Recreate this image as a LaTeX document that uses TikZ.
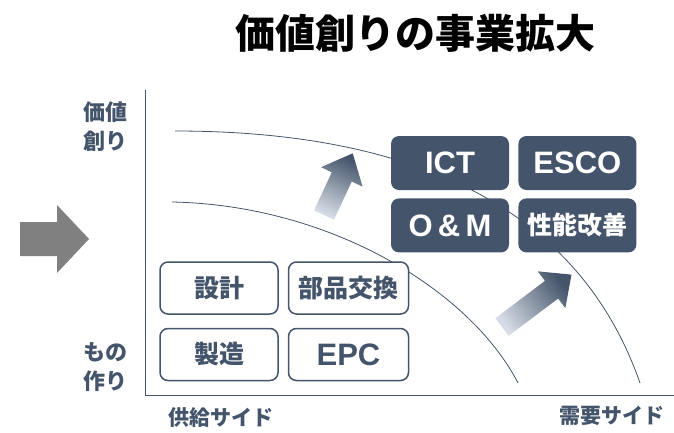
\documentclass[tikz,border=0pt]{standalone}
\usepackage{fontspec}
\setmainfont{Noto Sans CJK JP}
\newfontfamily\jpbold{Noto Sans CJK JP Black}
\newfontfamily\latinbold{Liberation Sans Bold}
\newfontfamily\titlefont{Noto Sans CJK JP Black}
\usetikzlibrary{positioning}

\definecolor{slate}{HTML}{44546A}
\definecolor{paleslate}{HTML}{D6DCE5}
\definecolor{arrowgray}{HTML}{808080}

\tikzset{
  lightbox/.style={draw=slate, line width=1.5pt, rounded corners=8pt, fill=white, text=slate,
    minimum width=118pt, minimum height=52pt, inner sep=0pt, font=\jpbold\fontsize{25}{25}\selectfont},
  darkbox/.style={fill=slate, rounded corners=8pt, text=white,
    minimum width=118pt, minimum height=54pt, inner sep=0pt, font=\jpbold\fontsize{25}{25}\selectfont},
  latintext/.style={font=\latinbold\fontsize{31}{31}\selectfont},
  sidelabel/.style={text=slate, font=\jpbold\fontsize{21}{21}\selectfont},
  levellabel/.style={text=slate, align=right, anchor=east, font=\jpbold\fontsize{22}{29}\selectfont},
  trend/.style={draw=slate, line width=0.8pt},
  growarrow/.style={top color=slate, bottom color=paleslate}
}

\begin{document}
\begin{tikzpicture}[x=1pt, y=-1pt]
\useasboundingbox (0,0) rectangle (674,432);

\node[font=\titlefont\fontsize{40}{40}\selectfont] (title) at (415,33) {価値創りの事業拡大};

% big arrow at the left
\fill[arrowgray] (20,222) -- (57,222) -- (57,205) -- (89,239) -- (57,273) -- (57,256) -- (20,256) -- cycle;

% axes
\coordinate (top) at (145,90);
\coordinate (origin) at (145,395);
\coordinate (right) at (674,395);
\draw[slate, line width=1pt] (top) -- (origin) -- (right);

\node[levellabel] (value) at (131,127) {価値\\創り};
\node[levellabel] (making) at (131,367) {もの\\作り};
\node[sidelabel] (supply) at (221,418) {供給サイド};
\node[sidelabel] (demand) at (612,416) {需要サイド};

% curves
\draw[trend] (175,131) .. controls (460,131) and (590,240) .. (640,383);
\draw[trend] (172,202) .. controls (330,205) and (470,290) .. (518,383);

% arrows
\begin{scope}[shift={(324,215)}, rotate=65]
  \shade[growarrow, shading angle=-25] (0,-11) -- (42,-11) -- (42,-23) -- (68,0) -- (42,23) -- (42,11) -- (0,11) -- cycle;
\end{scope}
\begin{scope}[shift={(502,327)}, rotate=37]
  \shade[growarrow, shading angle=-53] (0,-11) -- (62,-11) -- (62,-23) -- (87,0) -- (62,23) -- (62,11) -- (0,11) -- cycle;
\end{scope}

% making side
\node[lightbox] (design) at (219,288) {設計};
\node[lightbox, minimum width=120pt, right=9pt of design] (parts) {部品交換};
\node[lightbox, below=13pt of design] (maker) {製造};
\node[lightbox, latintext, minimum width=120pt, below=13pt of parts] (epc) {EPC};

% value side
\node[darkbox, latintext] (ict) at (450,163) {ICT};
\node[darkbox, latintext, right=9pt of ict] (esco) {ESCO};
\node[darkbox, latintext, below=8pt of ict] (om) {O\,\&\,M};
\node[darkbox, below=8pt of esco] (perf) {性能改善};
\end{tikzpicture}
\end{document}
